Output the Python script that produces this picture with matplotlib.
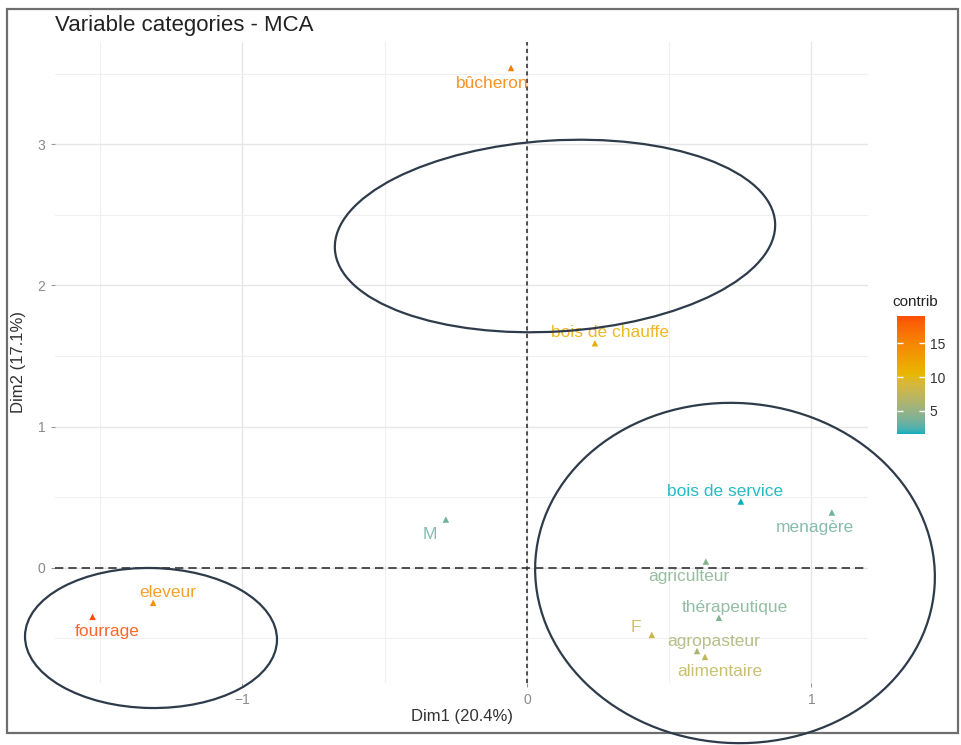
import matplotlib
matplotlib.use("Agg")
import numpy as np
import matplotlib.pyplot as plt
from matplotlib.colors import ListedColormap, to_rgb
from matplotlib.patches import Ellipse, Rectangle

plt.rcParams["font.family"] = ["Liberation Sans", "DejaVu Sans"]

# MCA variable categories: coordinates on Dim1 / Dim2 and contribution
categories = ["bûcheron", "bois de chauffe", "M", "bois de service", "menagère",
              "agriculteur", "thérapeutique", "F", "agropasteur", "alimentaire",
              "eleveur", "fourrage"]
dim1 = [-0.056, 0.239, -0.285, 0.752, 1.072, 0.629, 0.675, 0.439, 0.598, 0.626, -1.314, -1.527]
dim2 = [3.540, 1.590, 0.341, 0.469, 0.391, 0.043, -0.355, -0.476, -0.590, -0.632, -0.249, -0.348]
contrib = [15.5, 11.5, 3.4, 1.6, 3.4, 4.3, 4.0, 8.0, 6.0, 7.5, 14.0, 19.0]

x_ticks = [-1, 0, 1]
y_ticks = [0, 1, 2, 3]
cbar_ticks = [5, 10, 15]
gradient_cols = ["#00AFBB", "#E7B800", "#FC4E07"]

# label offsets (pixels) relative to each point
label_offsets = [(-19, -16), (15, 11), (-16, -15), (-16, 10), (-17, -15), (-17, -15),
                 (16, 10), (-16, 7), (17, 9), (15, -15), (15, 10), (15, -15)]


def srgb_to_lab(rgb):
    rgb = np.asarray(rgb, dtype=float)
    lin = np.where(rgb <= 0.04045, rgb / 12.92, ((rgb + 0.055) / 1.055) ** 2.4)
    m = np.array([[0.4124, 0.3576, 0.1805],
                  [0.2126, 0.7152, 0.0722],
                  [0.0193, 0.1192, 0.9505]])
    xyz = lin @ m.T / np.array([0.95047, 1.0, 1.08883])
    f = np.where(xyz > 0.008856, np.cbrt(xyz), 7.787 * xyz + 16 / 116)
    return np.stack([116 * f[..., 1] - 16,
                     500 * (f[..., 0] - f[..., 1]),
                     200 * (f[..., 1] - f[..., 2])], axis=-1)


def lab_to_srgb(lab):
    lab = np.asarray(lab, dtype=float)
    fy = (lab[..., 0] + 16) / 116
    fx = fy + lab[..., 1] / 500
    fz = fy - lab[..., 2] / 200
    f = np.stack([fx, fy, fz], axis=-1)
    xyz = np.where(f ** 3 > 0.008856, f ** 3, (f - 16 / 116) / 7.787)
    xyz = xyz * np.array([0.95047, 1.0, 1.08883])
    m_inv = np.array([[3.2406, -1.5372, -0.4986],
                      [-0.9689, 1.8758, 0.0415],
                      [0.0557, -0.2040, 1.0570]])
    lin = xyz @ m_inv.T
    rgb = np.where(lin <= 0.0031308, 12.92 * lin, 1.055 * np.clip(lin, 0, None) ** (1 / 2.4) - 0.055)
    return np.clip(rgb, 0, 1)


# gradient interpolated in Lab space, like scale_colour_gradientn
labs = srgb_to_lab([to_rgb(c) for c in gradient_cols])
t = np.linspace(0, 1, 256)
pos = np.linspace(0, 1, len(gradient_cols))
lab_ramp = np.stack([np.interp(t, pos, labs[:, k]) for k in range(3)], axis=-1)
cmap = ListedColormap(lab_to_srgb(lab_ramp))
vmin, vmax = 1.6, 19.0

W, H = 962, 745
fig = plt.figure(figsize=(W / 100, H / 100), dpi=100)
ax = fig.add_axes([55 / W, 1 - 683 / H, (868 - 55) / W, (683 - 42) / H])

ax.set_xlim(-1.659, 1.199)
ax.set_ylim(-0.817, 3.724)

# minimal theme grid
ax.set_xticks(x_ticks)
ax.set_yticks(y_ticks)
ax.set_xticks([-1.5, -0.5, 0.5], minor=True)
ax.set_yticks([-0.5, 0.5, 1.5, 2.5, 3.5], minor=True)
ax.grid(which="major", color="#E6E6E6", linewidth=1.0)
ax.grid(which="minor", color="#F0F0F0", linewidth=0.8)
ax.set_axisbelow(True)
for s in ax.spines.values():
    s.set_visible(False)
ax.tick_params(which="major", length=3, color="#999999", labelcolor="#8A8A8A",
               labelsize=10, pad=4)
ax.tick_params(which="minor", length=0)

ax.axhline(0, color="#333333", linewidth=1.2, dashes=(5, 3), zorder=2)
ax.axvline(0, color="#333333", linewidth=1.2, dashes=(2.5, 2), zorder=2)

sc = ax.scatter(dim1, dim2, c=contrib, cmap=cmap, vmin=vmin, vmax=vmax,
                marker="^", s=22, linewidths=0, zorder=3)

for name, x, y, c, off in zip(categories, dim1, dim2, contrib, label_offsets):
    ax.annotate(name, (x, y), xytext=off, textcoords="offset pixels",
                ha="center", va="center", fontsize=12.5, alpha=0.85,
                color=cmap((c - vmin) / (vmax - vmin)), zorder=4)

ax.set_xlabel("Dim1 (20.4%)", fontsize=12, color="#333333")
ax.set_ylabel("Dim2 (17.1%)", fontsize=12, color="#333333")
ax.xaxis.set_label_coords((462 - 55) / (868 - 55), -(709 - 683) / (683 - 42))
ax.yaxis.set_label_coords(-(55 - 26) / (868 - 55), (683 - 362) / (683 - 42))

fig.text(55 / W, 1 - 26 / H, "Variable categories - MCA", fontsize=16,
         color="#222222", ha="left", va="center")

# colour bar
cax = fig.add_axes([897 / W, 1 - 434 / H, 28 / W, 118 / H])
cb = fig.colorbar(sc, cax=cax, ticks=cbar_ticks)
cb.outline.set_visible(False)
cax.yaxis.set_ticks_position("both")
cax.tick_params(direction="in", length=4, color="white", width=1,
                labelsize=10, labelcolor="#333333", labelright=True, labelleft=False)
fig.text(915 / W, 1 - 302 / H, "contrib", fontsize=11, color="#222222",
         ha="center", va="center")

# outer frame
fig.patches.append(Rectangle((7 / W, 1 - 733 / H), (958 - 7) / W, (733 - 9) / H,
                             transform=fig.transFigure, fill=False,
                             edgecolor="#6E6E6E", linewidth=1.6, zorder=5))


def px_ellipse(cx, cy, w, h, angle):
    # ellipse given in image pixels (y from top)
    e = Ellipse((cx / 100, (H - cy) / 100), w / 100, h / 100, angle=angle,
                transform=fig.dpi_scale_trans, fill=False,
                edgecolor="#2E3B4A", linewidth=1.6, zorder=10)
    fig.patches.append(e)


px_ellipse(555, 236, 441, 191, 3.5)
px_ellipse(151, 638, 252, 140, -1)
px_ellipse(735, 573, 400, 340, -4)

fig.savefig("out.png", dpi=100)
